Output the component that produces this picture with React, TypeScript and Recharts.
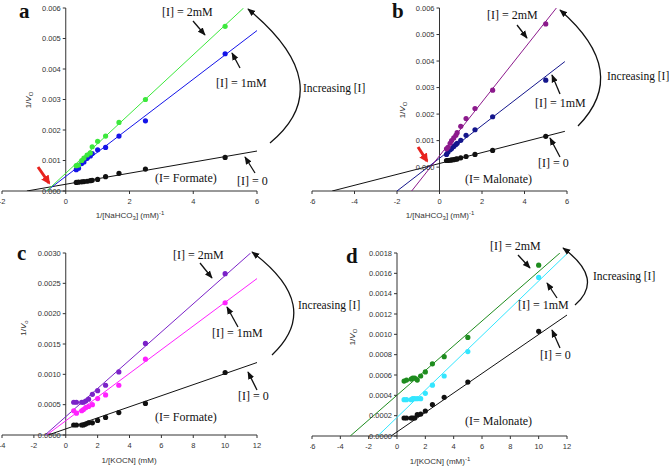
import React from 'react'
import { ComposedChart, Scatter, XAxis, YAxis, ReferenceLine } from 'recharts'

const SANS = '"Liberation Sans", Arial, sans-serif'
const SERIF = '"Liberation Serif", "Times New Roman", serif'

// 1/[substrate] used for every run
const invNaHCO3 = [0.33, 0.4, 0.5, 0.57, 0.67, 0.77, 0.83, 1.0, 1.25, 1.67, 2.5, 5.0]
const invKOCN = [0.5, 0.67, 1.0, 1.11, 1.25, 1.43, 1.67, 2.0, 2.5, 3.33, 5.0, 10.0]

// a: formate, NaHCO3
const aI0 = [0.00028, 0.00029, 0.0003, 0.00031, 0.00032, 0.00034, 0.00035, 0.00038, 0.00047, 0.00058, 0.00072, 0.0011]
const aI1 = [0.0007, 0.00075, 0.0009, 0.00095, 0.00107, 0.00115, 0.00123, 0.00135, 0.00143, 0.0018, 0.0023, 0.0045]
const aI2 = [0.00083, 0.00085, 0.001, 0.00108, 0.00118, 0.00125, 0.00145, 0.00163, 0.0018, 0.00225, 0.003, 0.0054]
// fitted lines as [x0, y0, x1, y1]
const aFit0 = [-1.22, 0, 6, 0.00131]
const aFit1 = [-0.6, 0, 6, 0.00526]
const aFit2 = [-0.6, 0, 5.58, 0.006]

// b: malonate, NaHCO3
const bI0 = [0.00025, 0.00025, 0.00026, 0.00027, 0.00028, 0.0003, 0.00031, 0.00035, 0.0004, 0.00048, 0.00063, 0.00116]
const bI1 = [0.00048, 0.00057, 0.00066, 0.0007, 0.00078, 0.00085, 0.0009, 0.00101, 0.0012, 0.00141, 0.0019, 0.00328]
const bI2 = [0.00069, 0.00075, 0.0009, 0.001, 0.0011, 0.0012, 0.0013, 0.00154, 0.00183, 0.00221, 0.0029, 0.0054]
const bFit0 = [-5.05, -0.0009, 5.9, 0.00135]
const bFit1 = [-2.0, -0.0009, 5.9, 0.00398]
const bFit2 = [-1.31, -0.0009, 5.5, 0.006]

// c: formate, KOCN
const cI0 = [0.000165, 0.000165, 0.000165, 0.000165, 0.00018, 0.0002, 0.0002, 0.00024, 0.00029, 0.00037, 0.00052, 0.00103]
const cI1 = [0.0004, 0.00036, 0.0004, 0.00042, 0.00045, 0.00047, 0.0005, 0.0006, 0.00066, 0.00082, 0.00125, 0.00218]
const cI2 = [0.00054, 0.00054, 0.00054, 0.00054, 0.00056, 0.00059, 0.00067, 0.00073, 0.00082, 0.00104, 0.00151, 0.00266]
const cFit0 = [-1.1, 0, 12.06, 0.0012]
const cFit1 = [-1.2, 0, 12.06, 0.00259]
const cFit2 = [-1.3, 0, 11.6, 0.003]

// d: malonate, KOCN
const dI0 = [0.000177, 0.000177, 0.000177, 0.000177, 0.000177, 0.00021, 0.000216, 0.000246, 0.00031, 0.00038, 0.00053, 0.00103]
const dI1 = [0.000357, 0.000357, 0.000357, 0.000367, 0.000367, 0.000367, 0.000367, 0.00042, 0.0005, 0.00059, 0.00083, 0.00156]
const dI2 = [0.00054, 0.00055, 0.00056, 0.00057, 0.00057, 0.00055, 0.00059, 0.00063, 0.00071, 0.00078, 0.00097, 0.00168]
const dFit0 = [-0.42, 0, 12, 0.00119]
const dFit1 = [-1.36, 0, 12.05, 0.0018]
const dFit2 = [-3.3, 0, 11.5, 0.0018]

const xTicksA = [-2, 0, 2, 4, 6]
const xTicksB = [-6, -4, -2, 0, 2, 4, 6]
const xTicksC = [-4, -2, 0, 2, 4, 6, 8, 10, 12]
const xTicksD = [-6, -4, -2, 0, 2, 4, 6, 8, 10, 12]
const yTicksAB = [0, 0.001, 0.002, 0.003, 0.004, 0.005, 0.006]
const yTicksC = [0, 0.0005, 0.001, 0.0015, 0.002, 0.0025, 0.003]
const yTicksD = [0, 0.0002, 0.0004, 0.0006, 0.0008, 0.001, 0.0012, 0.0014, 0.0016, 0.0018]

type Series = { ys: number[]; fit: number[]; color: string }

const Y_AXIS_W = 1

function Panel(props: any) {
  const { left, top, width, height, margin, xs, series, xDomain, xTicks, yDomain, yTicks, digits } = props
  const plotLeft = margin.left + Y_AXIS_W
  const plotW = width - plotLeft - margin.right
  const zeroX = plotLeft + (plotW * (0 - xDomain[0])) / (xDomain[1] - xDomain[0])

  // the y axis sits on x = 0, so its ticks are drawn there by hand
  const YTick = (p: any) => (
    <g>
      <line x1={zeroX - 3} x2={zeroX} y1={p.y} y2={p.y} stroke="#333" />
      <text x={zeroX - 5} y={p.y} dy={2.7} textAnchor="end" fontSize={7.5} fill="#333" fontFamily={SANS}>
        {Number(p.payload.value).toFixed(digits)}
      </text>
    </g>
  )

  return (
    <div style={{ position: 'absolute', left, top }}>
      <ComposedChart width={width} height={height} margin={margin}>
        <XAxis
          type="number"
          dataKey="x"
          domain={xDomain}
          ticks={xTicks}
          interval={0}
          allowDataOverflow
          height={30}
          tickSize={3}
          tickMargin={5}
          axisLine={{ stroke: '#333' }}
          tickLine={{ stroke: '#333' }}
          tick={{ fontSize: 7.5, fill: '#333', fontFamily: SANS }}
        />
        <YAxis
          type="number"
          dataKey="y"
          domain={yDomain}
          ticks={yTicks}
          interval={0}
          allowDataOverflow
          width={Y_AXIS_W}
          axisLine={false}
          tickLine={false}
          tick={YTick}
        />
        <ReferenceLine x={0} stroke="#333" />
        {series.map((s: Series, i: number) => (
          <Scatter
            key={'fit' + i}
            data={[
              { x: s.fit[0], y: s.fit[1] },
              { x: s.fit[2], y: s.fit[3] },
            ]}
            line={{ stroke: s.color, strokeWidth: 1 }}
            shape={() => <g />}
            isAnimationActive={false}
          />
        ))}
        {series.map((s: Series, i: number) => (
          <Scatter
            key={'pts' + i}
            data={xs.map((x: number, j: number) => ({ x, y: s.ys[j] }))}
            shape={(p: any) => <circle cx={p.cx} cy={p.cy} r={2.6} fill={s.color} />}
            isAnimationActive={false}
          />
        ))}
      </ComposedChart>
    </div>
  )
}

const Label = ({ x, y, children, size = 12 }: any) => (
  <text x={x} y={y} fontSize={size} fontFamily={SERIF} fill="#111">
    {children}
  </text>
)

const Arrow = ({ d }: any) => <path d={d} fill="none" stroke="#111" strokeWidth={1.3} markerEnd="url(#head)" />

const RedArrow = ({ d }: any) => <path d={d} fill="none" stroke="#e8231e" strokeWidth={3} markerEnd="url(#redhead)" />

const YTitle = ({ x, y, sub }: any) => (
  <text
    x={x}
    y={y}
    transform={`rotate(-90 ${x} ${y})`}
    textAnchor="middle"
    fontSize={8}
    fontFamily={SANS}
    fill="#333"
  >
    1/<tspan fontStyle="italic">V</tspan>
    <tspan dy={2} fontSize={6}>
      {sub}
    </tspan>
  </text>
)

const XTitle = ({ x, y, salt, sub, inv }: any) => (
  <text x={x} y={y} textAnchor="middle" fontSize={8} fontFamily={SANS} fill="#333">
    1/[{salt}
    {sub && (
      <tspan dy={2} fontSize={6}>
        {sub}
      </tspan>
    )}
    <tspan dy={sub ? -2 : 0}>] (mM)</tspan>
    {inv && (
      <tspan dy={-3} fontSize={6}>
        -1
      </tspan>
    )}
  </text>
)

const Letter = ({ x, y, children }: any) => (
  <text x={x} y={y} fontSize={21} fontWeight="bold" fontFamily={SERIF} fill="#111">
    {children}
  </text>
)

export default function App() {
  return (
    <div style={{ position: 'relative', width: 669, height: 468, background: '#fff', overflow: 'hidden' }}>
      <style>{'body{margin:0}'}</style>
      <Panel
        left={0}
        top={0}
        width={300}
        height={225}
        margin={{ top: 8, right: 43, bottom: 4, left: 1 }}
        xs={invNaHCO3}
        xDomain={[-2, 6]}
        xTicks={xTicksA}
        yDomain={[0, 0.006]}
        yTicks={yTicksAB}
        digits={3}
        series={[
          { ys: aI0, fit: aFit0, color: '#111111' },
          { ys: aI1, fit: aFit1, color: '#1414e8' },
          { ys: aI2, fit: aFit2, color: '#3ce83c' },
        ]}
      />
      <Panel
        left={310}
        top={0}
        width={300}
        height={225}
        margin={{ top: 8, right: 43, bottom: 4, left: 1 }}
        xs={invNaHCO3}
        xDomain={[-6, 6]}
        xTicks={xTicksB}
        yDomain={[-0.0009, 0.006]}
        yTicks={yTicksAB}
        digits={3}
        series={[
          { ys: bI0, fit: bFit0, color: '#111111' },
          { ys: bI1, fit: bFit1, color: '#14168c' },
          { ys: bI2, fit: bFit2, color: '#8c1a8c' },
        ]}
      />
      <Panel
        left={0}
        top={240}
        width={300}
        height={228}
        margin={{ top: 13, right: 43, bottom: 3, left: 1 }}
        xs={invKOCN}
        xDomain={[-4, 12]}
        xTicks={xTicksC}
        yDomain={[0, 0.003]}
        yTicks={yTicksC}
        digits={4}
        series={[
          { ys: cI0, fit: cFit0, color: '#111111' },
          { ys: cI1, fit: cFit1, color: '#ff22ff' },
          { ys: cI2, fit: cFit2, color: '#7b22c8' },
        ]}
      />
      <Panel
        left={310}
        top={240}
        width={300}
        height={228}
        margin={{ top: 13, right: 43, bottom: 2, left: 1 }}
        xs={invKOCN}
        xDomain={[-6, 12]}
        xTicks={xTicksD}
        yDomain={[0, 0.0018]}
        yTicks={yTicksD}
        digits={4}
        series={[
          { ys: dI0, fit: dFit0, color: '#111111' },
          { ys: dI1, fit: dFit1, color: '#33e6ff' },
          { ys: dI2, fit: dFit2, color: '#1e8c1e' },
        ]}
      />

      {/* annotations on top */}
      <svg width={669} height={468} style={{ position: 'absolute', left: 0, top: 0, pointerEvents: 'none' }}>
        <defs>
          <marker id="head" viewBox="0 0 10 10" refX="9" refY="5" markerWidth="8" markerHeight="8" markerUnits="userSpaceOnUse" orient="auto">
            <path d="M0,1 L10,5 L0,9 z" fill="#111" />
          </marker>
          <marker id="redhead" viewBox="0 0 10 10" refX="8" refY="5" markerWidth="9" markerHeight="9" markerUnits="userSpaceOnUse" orient="auto">
            <path d="M0,0 L10,5 L0,10 z" fill="#e8231e" />
          </marker>
        </defs>

        <Letter x={19} y={18}>a</Letter>
        <Letter x={392} y={18}>b</Letter>
        <Letter x={17} y={260}>c</Letter>
        <Letter x={346} y={263}>d</Letter>

        <YTitle x={31} y={100} sub="O" />
        <YTitle x={405} y={110} sub="O" />
        <YTitle x={26} y={328} sub="o" />
        <YTitle x={355} y={337} sub="O" />

        <XTitle x={130} y={218} salt="NaHCO" sub="3" inv />
        <XTitle x={440} y={218} salt="NaHCO" sub="3" inv />
        <XTitle x={129} y={463} salt="KOCN" />
        <XTitle x={440} y={464} salt="KOCN" inv />

        {/* a */}
        <Label x={162} y={16}>[I] = 2mM</Label>
        <Label x={216} y={87}>[I] = 1mM</Label>
        <Label x={237} y={185}>[I] = 0</Label>
        <Label x={155} y={182}>(I= Formate)</Label>
        <Label x={303} y={92} size={11.5}>Increasing [I]</Label>
        <Arrow d="M193,21 L205,35" />
        <Arrow d="M240,68 L232,53" />
        <Arrow d="M255,173 L245,157" />
        <Arrow d="M270,143 Q340,85 248,9" />
        <RedArrow d="M38,167 L49,183" />

        {/* b */}
        <Label x={487} y={19}>[I] = 2mM</Label>
        <Label x={535} y={107}>[I] = 1mM</Label>
        <Label x={538} y={167}>[I] = 0</Label>
        <Label x={465} y={183}>(I= Malonate)</Label>
        <Label x={607} y={80} size={11.5}>Increasing [I]</Label>
        <Arrow d="M517,25 L527,38" />
        <Arrow d="M560,94 L552,75" />
        <Arrow d="M560,157 L550,138" />
        <Arrow d="M578,126 Q631,72 560,10" />
        <RedArrow d="M418,147 L427,161" />

        {/* c */}
        <Label x={173} y={259}>[I] = 2mM</Label>
        <Label x={212} y={337}>[I] = 1mM</Label>
        <Label x={238} y={400}>[I] = 0</Label>
        <Label x={155} y={421}>(I= Formate)</Label>
        <Label x={298} y={309} size={11.5}>Increasing [I]</Label>
        <Arrow d="M200,263 L212,278" />
        <Arrow d="M238,327 L227,307" />
        <Arrow d="M257,390 L248,372" />
        <Arrow d="M272,355 Q324,306 252,252" />

        {/* d */}
        <Label x={490} y={250}>[I] = 2mM</Label>
        <Label x={518} y={309}>[I] = 1mM</Label>
        <Label x={540} y={359}>[I] = 0</Label>
        <Label x={465} y={425}>(I= Malonate)</Label>
        <Label x={593} y={280} size={11.5}>Increasing [I]</Label>
        <Arrow d="M518,255 L530,268" />
        <Arrow d="M557,298 L547,283" />
        <Arrow d="M560,348 L552,330" />
        <Arrow d="M575,305 Q605,279 563,248" />
      </svg>
    </div>
  )
}
